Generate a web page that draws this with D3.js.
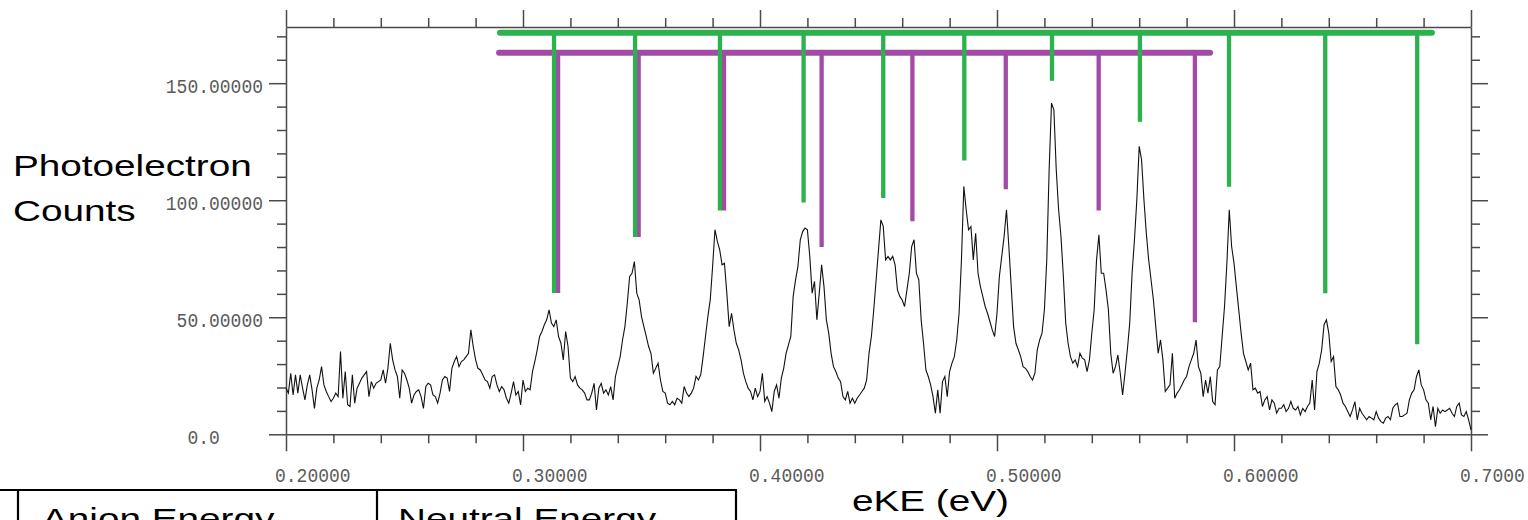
<!DOCTYPE html>
<html>
<head>
<meta charset="utf-8">
<script src="https://cdn.jsdelivr.net/npm/d3@7"></script>
<style>
  html, body { margin: 0; padding: 0; background: #fff; overflow: hidden; }
  svg { display: block; }
</style>
</head>
<body>
<svg id="chart" width="1528" height="520"></svg>
<script>
// ---- Photoelectron spectrum: counts per 0.001 eV bin, starting at 0.200 eV ----
const eKEStart = 0.200;
const eKEStep = 0.001;
const counts = [
  19.7, 17.6, 26.1, 16.8, 25.4, 17.6, 25.4, 19.7, 14.7, 21.1,   // 0.200
  25.4, 19.0, 11.1, 19.7, 23.2, 28.9, 21.1, 18.3, 16.1, 14.0,   // 0.210
  15.4, 17.6, 16.1, 35.4, 15.4, 26.8, 12.6, 11.9, 25.4, 13.3,   // 0.220
  19.7, 21.8, 24.0, 25.4, 26.8, 16.1, 22.5, 19.7, 21.8, 22.5,   // 0.230
  23.2, 27.5, 21.8, 28.2, 38.9, 31.8, 27.5, 24.7, 15.4, 27.5,   // 0.240
  26.1, 23.2, 19.7, 13.3, 16.8, 18.3, 19.0, 16.1, 11.1, 20.4,   // 0.250
  21.8, 21.1, 16.8, 16.1, 13.3, 17.6, 23.2, 24.7, 24.0, 18.3,   // 0.260
  28.2, 31.1, 33.2, 28.9, 31.1, 31.8, 33.2, 34.6, 44.6, 37.5,   // 0.270
  31.8, 28.2, 27.5, 25.4, 23.2, 22.5, 19.7, 24.7, 25.4, 21.1,   // 0.280
  18.3, 20.4, 19.0, 15.4, 13.3, 17.6, 22.5, 16.8, 18.3, 12.6,   // 0.290
  23.2, 18.3, 19.7, 19.0, 26.8, 31.1, 36.1, 41.8, 43.9, 46.8,   // 0.300
  48.9, 53.2, 47.5, 46.0, 48.9, 41.8, 38.9, 31.8, 43.9, 37.5,   // 0.310
  24.0, 22.5, 24.7, 21.1, 19.7, 19.0, 17.6, 14.7, 14.7, 17.6,   // 0.320
  21.8, 10.4, 19.7, 21.8, 17.6, 19.0, 16.8, 20.4, 14.7, 24.7,   // 0.330
  28.9, 33.2, 40.3, 46.0, 56.0, 67.4, 68.8, 73.8, 60.3, 57.4,   // 0.340
  50.3, 46.0, 41.8, 37.5, 34.6, 26.1, 28.2, 30.4, 23.2, 18.3,   // 0.350
  17.6, 13.3, 12.6, 14.0, 12.6, 15.4, 14.7, 13.3, 20.4, 17.6,   // 0.360
  16.1, 17.6, 19.7, 24.7, 23.2, 25.4, 33.2, 41.8, 50.3, 57.4,   // 0.370
  71.7, 87.4, 82.4, 78.8, 72.4, 73.1, 60.3, 46.0, 51.7, 44.6,   // 0.380
  38.9, 36.1, 31.8, 26.1, 22.5, 19.7, 18.3, 14.7, 19.7, 16.1,   // 0.390
  18.3, 26.1, 14.0, 16.1, 13.3,  9.7, 18.3, 21.1, 15.4, 24.0,   // 0.400
  28.2, 34.6, 38.2, 41.8, 58.9, 66.0, 71.7, 83.1, 86.6, 88.1,   // 0.410
  87.4, 76.0, 60.3, 65.3, 48.9, 60.3, 72.4, 63.1, 48.9, 43.2,   // 0.420
  34.6, 28.9, 26.8, 24.0, 22.5, 16.1, 14.7, 18.3, 13.3, 15.4,   // 0.430
  13.3, 15.4, 16.8, 18.3, 19.7, 23.2, 34.6, 41.8, 53.2, 66.0,   // 0.440
  78.8, 91.6, 88.8, 74.5, 76.0, 74.5, 76.0, 72.4, 61.7, 58.9,   // 0.450
  57.4, 54.6, 61.7, 68.8, 80.2, 83.1, 68.8, 66.0, 48.9, 38.9,   // 0.460
  27.5, 24.7, 21.1, 16.1,  9.0, 19.0,  9.0, 22.5, 24.7, 16.1,   // 0.470
  26.8, 30.4, 33.2, 40.3, 51.7, 74.5, 105.9, 95.9, 87.4, 88.8,  // 0.480
  74.5, 85.9, 68.8, 63.1, 58.9, 54.6, 51.7, 48.2, 44.6, 41.8,   // 0.490
  51.7, 67.4, 76.0, 84.5, 95.9, 80.2, 63.1, 46.0, 38.9, 36.1,   // 0.500
  33.2, 28.9, 28.2, 26.8, 24.7, 23.2, 26.1, 36.1, 40.3, 43.2,   // 0.510
  53.2, 74.5, 113.0, 141.5, 138.6, 113.0, 95.9, 84.5, 67.4, 47.5, // 0.520
  38.9, 33.2, 30.4, 31.8, 28.9, 34.6, 32.5, 31.8, 26.8, 31.8,   // 0.530
  43.2, 53.2, 74.5, 85.2, 68.8, 68.8, 61.7, 53.2, 34.6, 26.1,   // 0.540
  28.9, 33.9, 26.1, 16.8, 26.1, 36.1, 47.5, 68.8, 83.1, 100.2,  // 0.550
  123.0, 117.3, 100.2, 85.9, 74.5, 66.0, 57.4, 46.0, 34.6, 40.3, // 0.560
  31.8, 18.3, 19.7, 21.1, 34.6, 15.4, 17.6, 19.0, 21.1, 23.2,   // 0.570
  24.7, 28.9, 31.8, 34.6, 40.3, 28.9, 26.1, 16.1, 23.2, 17.6,   // 0.580
  24.7, 14.0, 12.6, 27.5, 28.9, 41.8, 54.6, 73.1, 95.9, 80.2,   // 0.590
  73.1, 63.1, 53.2, 43.2, 34.6, 31.1, 27.5, 30.4, 19.0, 19.7,   // 0.600
  17.6, 18.3, 11.9, 14.7, 16.1, 10.4, 14.7, 13.3,  9.0, 11.1,   // 0.610
  11.1, 12.6,  9.7, 11.1, 14.0, 11.1, 10.4, 11.9,  8.3, 11.1,   // 0.620
   9.7, 11.9, 13.3, 23.2, 10.4, 26.8, 30.4, 36.1, 46.8, 48.9,   // 0.630
  43.2, 31.1, 33.2, 20.4, 19.0, 16.8, 13.3, 11.9,  9.7,  7.6,   // 0.640
  10.4, 14.0,  6.2, 11.1,  9.0,  7.6,  6.2,  7.6,  6.9,  6.2,   // 0.650
   9.7,  6.9,  5.4,  4.7,  6.9,  7.6,  6.2, 11.1, 12.6, 13.3,   // 0.660
   7.6,  7.6,  8.3,  9.0, 14.7, 17.6, 19.0, 24.7, 27.5, 21.1,   // 0.670
  19.0, 14.7, 13.3,  6.2, 11.9,  3.3, 11.1,  9.0, 10.4,  9.7,   // 0.680
  10.4, 11.1,  9.0,  7.6, 11.9, 13.3,  8.3,  7.6,  9.7,  6.2,   // 0.690
   1.9                                                          // 0.700
];
const eKE = counts.map((_, i) => +(eKEStart + i * eKEStep).toFixed(3));

// ---- Vibrational progressions (stick positions in eV, stick lower ends in counts) ----
const neutralLines = [0.3131, 0.3473, 0.3831, 0.4184, 0.4520, 0.4862, 0.5232, 0.5603, 0.5979, 0.6385, 0.6773];
const neutralEnds  = [60.4, 84.3, 95.6, 99.0, 101.0, 117.0, 151.0, 133.5, 105.8, 60.3, 38.5];
const neutralBar   = [0.2903, 0.6835];
const neutralLevel = 171.5;

const anionLines = [0.3148, 0.3488, 0.3848, 0.4260, 0.4643, 0.5037, 0.5429, 0.5835];
const anionEnds  = [60.4, 84.3, 95.6, 80.0, 91.0, 104.7, 95.6, 47.9];
const anionBar   = [0.2899, 0.5899];
const anionLevel = 163.0;

// ---- Axes ----
const xDomain = [0.2, 0.7];
const yDomain = [0, 174];
const xMajorTicks = [0.2, 0.3, 0.4, 0.5, 0.6, 0.7];
const xMinorTicks = [0.22, 0.24, 0.26, 0.28, 0.32, 0.34, 0.36, 0.38, 0.42, 0.44, 0.46, 0.48,
                     0.52, 0.54, 0.56, 0.58, 0.62, 0.64, 0.66, 0.68];
const xTickLabels = ["0.20000", "0.30000", "0.40000", "0.50000", "0.60000", "0.7000"];
const yMajorTicks = [0, 50, 100, 150];
const yMinorTicks = [10, 20, 30, 40, 60, 70, 80, 90, 110, 120, 130, 140, 160, 170];
const yTickLabels = ["0.0", "50.00000", "100.00000", "150.00000"];

const tableHeaders = ["Anion Energy", "Neutral Energy"];

const GREEN = "#2bb24c";
const PURPLE = "#a24ba6";
const AXIS = "#4a4a4a";
const STRETCH = 1.29;

const svg = d3.select("#chart");
const x = d3.scaleLinear().domain(xDomain).range([286, 1471]);
const y = d3.scaleLinear().domain(yDomain).range([434.3, 27]);

function styleAxis(g, keepDomain) {
  if (!keepDomain) g.select(".domain").remove();
  g.select(".domain").attr("stroke", AXIS).attr("stroke-width", 1.5);
  g.selectAll(".tick line").attr("stroke", AXIS).attr("stroke-width", 1.5);
  g.selectAll(".tick text").remove();
}

function addAxis(gen, transform, majors, minors) {
  svg.append("g").attr("transform", transform)
    .call(gen.tickValues(minors).tickSize(9).tickSizeOuter(0).tickFormat(""))
    .call(g => styleAxis(g, false));
  svg.append("g").attr("transform", transform)
    .call(gen.tickValues(majors).tickSize(17).tickSizeOuter(0).tickFormat(""))
    .call(g => styleAxis(g, true));
}

addAxis(d3.axisBottom(x), `translate(0,${y(0)})`, xMajorTicks, xMinorTicks);
addAxis(d3.axisTop(x), `translate(0,${y(yDomain[1])})`, xMajorTicks, xMinorTicks);
addAxis(d3.axisLeft(y), `translate(${x(xDomain[0])},0)`, yMajorTicks, yMinorTicks);
addAxis(d3.axisRight(y), `translate(${x(xDomain[1])},0)`, yMajorTicks, yMinorTicks);

// tick labels (monospaced, left-set under each tick)
const CHAR_W = 10.8;
svg.append("g").selectAll("text").data(xMajorTicks).join("text")
  .attr("x", d => x(d) - 11)
  .attr("y", 482)
  .attr("font-family", "'Liberation Mono', 'DejaVu Sans Mono', monospace")
  .attr("font-size", 20)
  .attr("fill", "#5a5a5a")
  .attr("textLength", (d, i) => xTickLabels[i].length * CHAR_W)
  .attr("lengthAdjust", "spacingAndGlyphs")
  .text((d, i) => xTickLabels[i]);

svg.append("g").selectAll("text").data(yMajorTicks).join("text")
  .attr("x", (d, i) => 263 - Math.max(yTickLabels[i].length, 7) * CHAR_W)
  .attr("y", d => y(d) + 9.8)
  .attr("font-family", "'Liberation Mono', 'DejaVu Sans Mono', monospace")
  .attr("font-size", 20)
  .attr("fill", "#5a5a5a")
  .attr("textLength", (d, i) => yTickLabels[i].length * CHAR_W)
  .attr("lengthAdjust", "spacingAndGlyphs")
  .text((d, i) => yTickLabels[i]);

// ---- Spectrum trace ----
const line = d3.line().x((d, i) => x(eKE[i])).y(d => y(d));
svg.append("path")
  .datum(counts)
  .attr("d", line)
  .attr("fill", "none")
  .attr("stroke", "#111")
  .attr("stroke-width", 1.1)
  .attr("stroke-linejoin", "miter");

// ---- Progression combs ----
const combs = svg.append("g");
combs.append("line")
  .attr("x1", x(anionBar[0])).attr("x2", x(anionBar[1]))
  .attr("y1", y(anionLevel)).attr("y2", y(anionLevel))
  .attr("stroke", PURPLE).attr("stroke-width", 6).attr("stroke-linecap", "round");
combs.append("line")
  .attr("x1", x(neutralBar[0])).attr("x2", x(neutralBar[1]))
  .attr("y1", y(neutralLevel)).attr("y2", y(neutralLevel))
  .attr("stroke", GREEN).attr("stroke-width", 6).attr("stroke-linecap", "round");

combs.append("g").selectAll("line").data(anionLines).join("line")
  .attr("x1", d => x(d)).attr("x2", d => x(d))
  .attr("y1", y(anionLevel)).attr("y2", (d, i) => y(anionEnds[i]))
  .attr("stroke", PURPLE).attr("stroke-width", 4.3);

combs.append("g").selectAll("line").data(neutralLines).join("line")
  .attr("x1", d => x(d)).attr("x2", d => x(d))
  .attr("y1", y(neutralLevel)).attr("y2", (d, i) => y(neutralEnds[i]))
  .attr("stroke", GREEN).attr("stroke-width", 4.3);

// ---- Axis titles (wide sans, horizontally stretched) ----
function bigText(str, px, py) {
  svg.append("text")
    .attr("transform", `translate(${px},${py}) scale(${STRETCH},1)`)
    .attr("font-family", "'Liberation Sans', Arial, sans-serif")
    .attr("font-size", 30)
    .attr("fill", "#000")
    .text(str);
}
bigText("Photoelectron", 13, 176);
bigText("Counts", 13, 221);
bigText("eKE (eV)", 852, 511);

// ---- Table header strip along the bottom ----
const table = svg.append("g").attr("stroke", "#000").attr("stroke-width", 2.2);
table.append("line").attr("x1", 0).attr("x2", 737).attr("y1", 490).attr("y2", 490);
[18, 377, 736].forEach(cx => {
  table.append("line").attr("x1", cx).attr("x2", cx).attr("y1", 490).attr("y2", 520);
});
bigText(tableHeaders[0], 42, 529);
bigText(tableHeaders[1], 398, 529);
</script>
</body>
</html>
